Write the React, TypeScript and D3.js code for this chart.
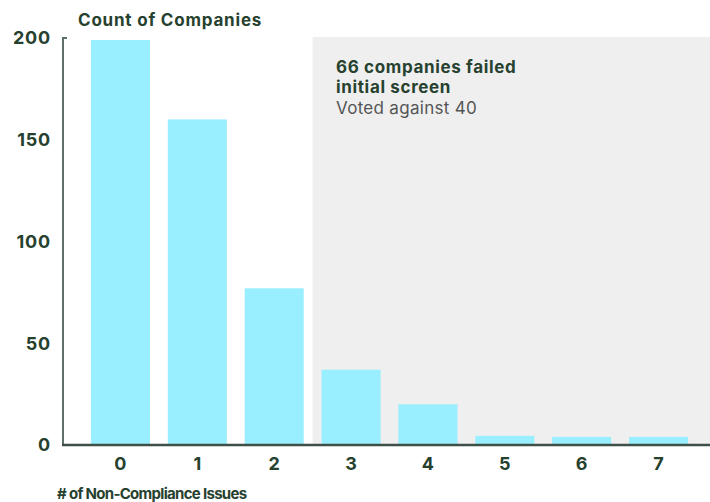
import React from "react";
import * as d3 from "d3";

const categories = ["0", "1", "2", "3", "4", "5", "6", "7"];
const counts = [199, 160, 77, 37, 20, 4.5, 4, 4];
const yTicks = [0, 50, 100, 150, 200];
const title = "Count of Companies";
const xTitle = "# of Non-Compliance Issues";
const noteBold = ["66 companies failed", "initial screen"];
const noteText = "Voted against 40";
const failedFrom = "3";

const W = 710;
const H = 502;
const FONT = "Inter, 'Noto Sans', sans-serif";
const DARK = "#27412f";
const BAR = "#99eeff";
const AXIS = "#3e4f47";

export default function App() {
  const x = d3.scaleBand<string>().domain(categories).range([82, 697]).paddingInner(0.232).paddingOuter(0.116);
  const y = d3.scaleLinear().domain([0, 200]).range([445, 38]);
  const step = x.step();
  const shadeX = (x(failedFrom) as number) - (step - x.bandwidth()) / 2;
  return (
    <svg width={W} height={H} style={{ position: "absolute", left: 0, top: 0 }}>
      <rect x={0} y={0} width={W} height={H} fill="#ffffff" />
      <rect x={shadeX} y={37} width={W - shadeX} height={y(0) - 37} fill="#efefef" />
      {categories.map((c, i) => (
        <rect key={c} x={x(c)} y={y(counts[i])} width={x.bandwidth()} height={y(0) - y(counts[i])} fill={BAR} />
      ))}
      <line x1={63} x2={63} y1={37} y2={446} stroke="#5f7068" strokeWidth={2} />
      <line x1={62} x2={67} y1={38} y2={38} stroke="#5f7068" strokeWidth={2} />
      <line x1={62} x2={W} y1={445} y2={445} stroke={AXIS} strokeWidth={2.5} />
      {yTicks.map((t) => (
        <text key={t} x={51} y={y(t)} dy="0.36em" textAnchor="end" fontFamily={FONT} fontWeight={700} fontSize={18} fill={DARK} letterSpacing={0.8}>
          {t}
        </text>
      ))}
      {categories.map((c) => (
        <text key={c} x={(x(c) as number) + x.bandwidth() / 2} y={470} textAnchor="middle" fontFamily={FONT} fontWeight={700} fontSize={18} fill={DARK}>
          {c}
        </text>
      ))}
      <text x={78} y={26} fontFamily={FONT} fontWeight={700} fontSize={17} fill={DARK} letterSpacing={0.8}>
        {title}
      </text>
      <text x={57} y={499} fontFamily={FONT} fontWeight={700} fontSize={15} fill={DARK} letterSpacing={-0.7}>
        {xTitle}
      </text>
      {noteBold.map((s, i) => (
        <text key={s} x={336} y={73 + i * 20} fontFamily={FONT} fontWeight={700} fontSize={17} fill={DARK} letterSpacing={0.65}>
          {s}
        </text>
      ))}
      <text x={336} y={114} fontFamily={FONT} fontWeight={400} fontSize={17} fill="#555555" letterSpacing={0.3}>
        {noteText}
      </text>
    </svg>
  );
}
